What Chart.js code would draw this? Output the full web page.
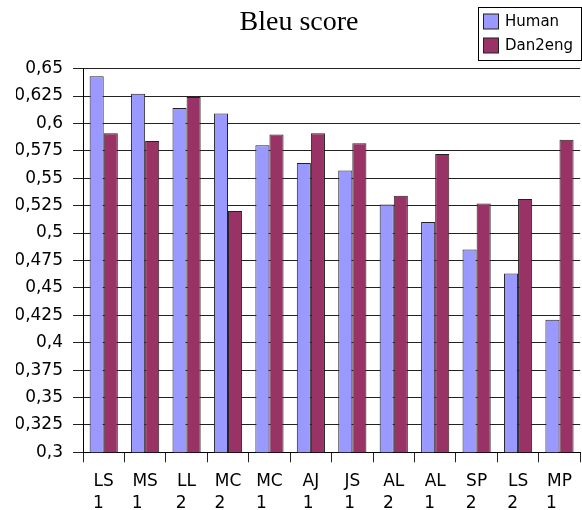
<!DOCTYPE html>
<html>
<head>
<meta charset="utf-8">
<script src="https://cdn.jsdelivr.net/npm/chart.js@4/dist/chart.umd.min.js"></script>
<style>
  html, body { margin: 0; padding: 0; background: #fff; overflow: hidden; }
  #wrap { width: 582px; height: 510px; }
</style>
</head>
<body>
<div id="wrap"><canvas id="c" width="582" height="510"></canvas></div>
<script>
const titleText = "Bleu score";
const categories = ["LS 1", "MS 1", "LL 2", "MC 2", "MC 1", "AJ 1", "JS 1", "AL 2", "AL 1", "SP 2", "LS 2", "MP 1"];
const seriesNames = ["Human", "Dan2eng"];
const humanValues = [0.643, 0.627, 0.614, 0.609, 0.580, 0.564, 0.557, 0.526, 0.510, 0.485, 0.463, 0.421];
const dan2engValues = [0.591, 0.584, 0.624, 0.520, 0.590, 0.591, 0.582, 0.534, 0.572, 0.527, 0.531, 0.585];
const yMin = 0.3;
const yMax = 0.65;
const yStep = 0.025;

const AXIS_FONT = "DejaVu Sans";
const AXIS_SIZE = 17;

const measureCtx = document.createElement('canvas').getContext('2d');
measureCtx.font = AXIS_SIZE + 'px "' + AXIS_FONT + '"';

function splitLabel(label) {
  const parts = label.split(' ');
  const first = parts[0];
  let second = parts.slice(1).join(' ');
  const w1 = measureCtx.measureText(first).width;
  const sp = measureCtx.measureText(' ').width;
  while (measureCtx.measureText(second).width + sp / 2 < w1) second += ' ';
  return [first, second];
}

function fmt(v) {
  const r = Math.round(v * 1000) / 1000;
  return String(r).replace('.', ',');
}

const legendPlugin = {
  id: 'boxLegend',
  afterDraw(chart) {
    const ctx = chart.ctx;
    const x0 = 478.5, y0 = 7.5, w = 103, h = 53;
    ctx.save();
    ctx.fillStyle = '#fff';
    ctx.fillRect(x0, y0, w, h);
    ctx.strokeStyle = '#000';
    ctx.lineWidth = 1;
    ctx.strokeRect(x0, y0, w, h);
    ctx.font = '15px "DejaVu Sans"';
    ctx.textBaseline = 'middle';
    ctx.textAlign = 'left';
    const rowsY = [22, 46];
    chart.data.datasets.forEach((ds, i) => {
      const cy = rowsY[i];
      ctx.fillStyle = ds.backgroundColor;
      ctx.fillRect(483.5, cy - 8, 15, 15);
      ctx.strokeStyle = '#222';
      ctx.strokeRect(483.5, cy - 8, 15, 15);
      ctx.fillStyle = '#000';
      ctx.fillText(ds.label, 505, cy + 0.5);
    });
    ctx.restore();
  }
};

new Chart(document.getElementById('c'), {
  type: 'bar',
  data: {
    labels: categories,
    datasets: [
      { label: seriesNames[0], data: humanValues, backgroundColor: '#9999ff', borderColor: '#222', borderWidth: 1 },
      { label: seriesNames[1], data: dan2engValues, backgroundColor: '#993366', borderColor: '#222', borderWidth: 1 }
    ]
  },
  options: {
    responsive: false,
    animation: false,
    devicePixelRatio: 1,
    layout: { padding: { left: 16, right: 0, top: 0, bottom: 0 } },
    datasets: { bar: { barPercentage: 1, categoryPercentage: 0.68 } },
    plugins: {
      legend: { display: false },
      tooltip: { enabled: false },
      title: {
        display: true,
        text: titleText,
        color: '#000',
        font: { family: 'Liberation Serif', size: 28, weight: 'normal', lineHeight: 1.2 },
        padding: { top: 6, bottom: 29 }
      }
    },
    scales: {
      x: {
        grid: { display: true, drawOnChartArea: false, drawTicks: true, tickLength: 10, color: '#222', offset: true },
        border: { display: true, color: '#000' },
        ticks: {
          color: '#000',
          font: { family: AXIS_FONT, size: AXIS_SIZE, lineHeight: 1.25 },
          padding: 9,
          maxRotation: 0,
          autoSkip: false,
          callback: function (value) { return splitLabel(this.getLabelForValue(value)); }
        },
        afterFit(scale) { scale.height = 57.7; }
      },
      y: {
        min: yMin,
        max: yMax,
        grid: { color: '#222', tickLength: 10, drawTicks: true },
        border: { display: true, color: '#000' },
        ticks: {
          stepSize: yStep,
          color: '#000',
          font: { family: AXIS_FONT, size: AXIS_SIZE },
          padding: 10,
          callback: (v) => fmt(v)
        },
        afterFit(scale) { scale.width = 67; }
      }
    }
  },
  plugins: [legendPlugin]
});
</script>
</body>
</html>
